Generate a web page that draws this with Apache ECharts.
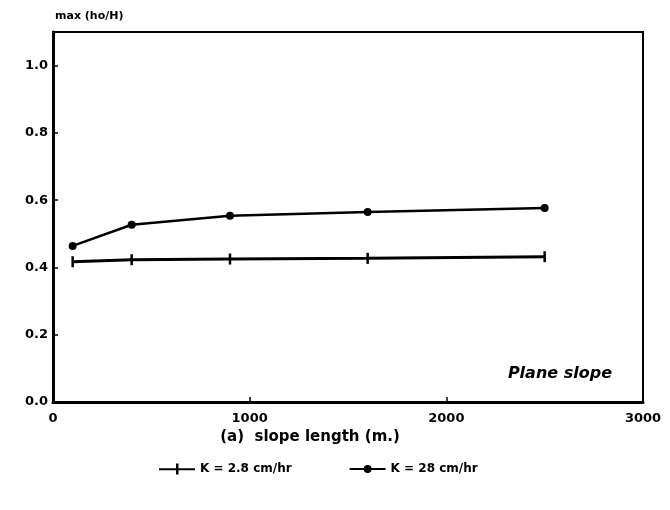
<!DOCTYPE html>
<html>
<head>
<meta charset="utf-8">
<script src="https://cdn.jsdelivr.net/npm/echarts@6/dist/echarts.min.js"></script>
<style>
  html, body { margin: 0; padding: 0; background: #fff; }
  #chart { width: 670px; height: 510px; }
</style>
</head>
<body>
<div id="chart"></div>
<script>
// Slope lengths (m) and maximum relative depth ho/H for two conductivities
var slopeLength = [100, 400, 900, 1600, 2500];
var kLow = [0.417, 0.423, 0.425, 0.427, 0.432];   // K = 2.8 cm/hr
var kHigh = [0.464, 0.527, 0.554, 0.565, 0.577];  // K = 28 cm/hr
var xTicks = [0, 1000, 2000, 3000];
var yTicks = [0.0, 0.2, 0.4, 0.6, 0.8, 1.0];
var seriesNames = ['K = 2.8 cm/hr', 'K = 28 cm/hr'];

var FONT = 'DejaVu Sans';
// thin vertical bar used as the "+" style marker of the low-K curve
var BAR = 'path://M0,0 L2,0 L2,10 L0,10 Z';
// legend keys: a short line with the marker in its middle
var KEY_BAR = 'path://M0,4.8 L17,4.8 L17,0 L19.5,0 L19.5,4.8 L36,4.8 L36,6.8 L19.5,6.8 L19.5,11 L17,11 L17,6.8 L0,6.8 Z';
var KEY_DOT = 'path://M0,4.5 L14,4.5 L15,2.5 L17,1.5 L19,1.5 L21,2.5 L22,4.5 L36,4.5 L36,6.5 L22,6.5 L21,8.5 L19,9.5 L17,9.5 L15,8.5 L14,6.5 L0,6.5 Z';

function pairs(xs, ys) {
  return xs.map(function (x, i) { return [x, ys[i]]; });
}

var chart = echarts.init(document.getElementById('chart'), null, { renderer: 'canvas' });

chart.setOption({
  backgroundColor: '#ffffff',
  animation: false,
  textStyle: { fontFamily: FONT, color: '#000' },
  grid: {
    left: 53, right: 27, top: 32, bottom: 108,
    show: true, borderColor: '#000', borderWidth: 2, backgroundColor: 'transparent'
  },
  legend: {
    bottom: 30,
    left: 154,
    itemWidth: 36,
    itemHeight: 11,
    itemGap: 58,
    itemStyle: { color: '#000', borderWidth: 0 },
    textStyle: { fontFamily: FONT, fontWeight: 'bold', fontSize: 12, color: '#000' },
    data: [
      { name: seriesNames[0], icon: KEY_BAR },
      { name: seriesNames[1], icon: KEY_DOT }
    ]
  },
  xAxis: {
    type: 'value',
    min: 0, max: 3000, interval: 1000,
    name: '(a)  slope length (m.)',
    nameLocation: 'middle',
    nameGap: 28,
    nameTextStyle: { fontFamily: FONT, fontSize: 15, fontWeight: 'bold', color: '#000', padding: [0, 76, 0, 0] },
    axisLine: { show: true, lineStyle: { color: '#000', width: 3 } },
    axisTick: { show: true, inside: true, length: 5, lineStyle: { color: '#000', width: 1.5 } },
    axisLabel: {
      fontFamily: FONT, fontWeight: 'bold', fontSize: 13, color: '#000', margin: 10,
      formatter: function (v) { return xTicks.indexOf(v) >= 0 ? String(v) : ''; }
    },
    splitLine: { show: false }
  },
  yAxis: {
    type: 'value',
    min: 0, max: 1.1, interval: 0.2,
    name: 'max (ho/H)',
    nameLocation: 'end',
    nameGap: 10,
    nameTextStyle: { fontFamily: FONT, fontSize: 11, fontWeight: 'bold', color: '#000', align: 'left', padding: [0, 0, 0, 2] },
    axisLine: { show: true, lineStyle: { color: '#000', width: 3 } },
    axisTick: { show: true, inside: true, length: 5, lineStyle: { color: '#000', width: 1.5 } },
    axisLabel: {
      fontFamily: FONT, fontWeight: 'bold', fontSize: 13, color: '#000', margin: 5,
      showMaxLabel: false,
      formatter: function (v) {
        var hit = yTicks.filter(function (t) { return Math.abs(t - v) < 1e-6; });
        return hit.length ? hit[0].toFixed(1) : '';
      }
    },
    splitLine: { show: false }
  },
  graphic: [{
    type: 'text',
    right: 58,
    top: 366,
    style: {
      text: 'Plane slope',
      font: 'italic bold 16px "DejaVu Sans"',
      fill: '#000'
    }
  }],
  series: [
    {
      name: seriesNames[0],
      type: 'line',
      data: pairs(slopeLength, kLow),
      symbol: BAR,
      symbolSize: [2.5, 11],
      symbolKeepAspect: false,
      itemStyle: { color: '#000' },
      lineStyle: { color: '#000', width: 3 }
    },
    {
      name: seriesNames[1],
      type: 'line',
      data: pairs(slopeLength, kHigh),
      symbol: 'circle',
      symbolSize: 8,
      itemStyle: { color: '#000' },
      lineStyle: { color: '#000', width: 2.5 }
    }
  ]
});
</script>
</body>
</html>
